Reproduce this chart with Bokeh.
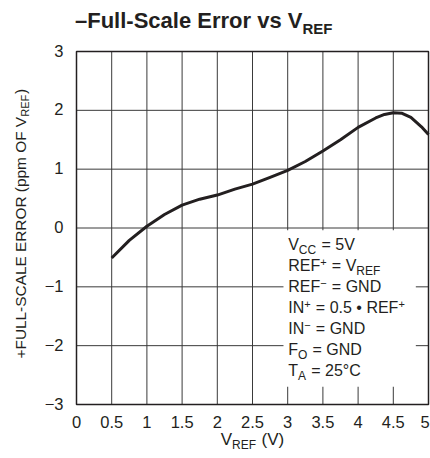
import math
from bokeh.plotting import figure
from bokeh.models import Label, Range1d
from bokeh.core.properties import value
from bokeh.embed import file_html
from bokeh.resources import INLINE

# ---------------- data ----------------
vref = [0.5, 0.75, 1.0, 1.25, 1.5, 1.75, 2.0, 2.25, 2.5, 2.75, 3.0, 3.25,
        3.5, 3.75, 4.0, 4.25, 4.375, 4.5, 4.625, 4.75, 4.9, 5.0]
fs_error = [-0.51, -0.21, 0.03, 0.23, 0.39, 0.49, 0.56, 0.66, 0.745, 0.86, 0.98, 1.13,
            1.31, 1.50, 1.71, 1.87, 1.93, 1.96, 1.95, 1.88, 1.72, 1.59]

x_ticks = [0, 0.5, 1, 1.5, 2, 2.5, 3, 3.5, 4, 4.5, 5]
x_tick_labels = ["0", "0.5", "1", "1.5", "2", "2.5", "3", "3.5", "4", "4.5", "5"]
y_ticks = [-3, -2, -1, 0, 1, 2, 3]
y_tick_labels = ["\u22123", "\u22122", "\u22121", "0", "1", "2", "3"]

title_parts = [("\u2013Full-Scale Error vs V", "n"), ("REF", "sub")]
xlabel_parts = [("V", "n"), ("REF", "sub"), (" (V)", "n")]
ylabel_parts = [("+FULL-SCALE ERROR (ppm OF V", "n"), ("REF", "sub"), (")", "n")]
legend_lines = [
    [("V", "n"), ("CC", "sub"), (" = 5V", "n")],
    [("REF", "n"), ("+", "sup"), (" = V", "n"), ("REF", "sub")],
    [("REF", "n"), ("\u2212", "sup"), (" = GND", "n")],
    [("IN", "n"), ("+", "sup"), (" = 0.5 \u2022 REF", "n"), ("+", "sup")],
    [("IN", "n"), ("\u2212", "sup"), (" = GND", "n")],
    [("F", "n"), ("O", "sub"), (" = GND", "n")],
    [("T", "n"), ("A", "sub"), (" = 25\u00b0C", "n")],
]

# ---------------- text metrics (Arial-compatible widths /1000) ----------------
W_REG = {' ': 278, '+': 584, '-': 333, '\u2013': 556, '\u2212': 584, '.': 278, '(': 333, ')': 333,
         '\u00b0': 400, '\u2022': 350, '=': 584, 'A': 667, 'C': 722, 'D': 722, 'E': 667, 'F': 611,
         'G': 778, 'I': 278, 'L': 556, 'N': 722, 'O': 778, 'R': 722, 'S': 667, 'T': 611, 'U': 722,
         'V': 667, 'a': 556, 'c': 500, 'e': 556, 'l': 222, 'm': 833, 'o': 556, 'p': 556, 'r': 333,
         's': 500, 'u': 556, 'v': 500}
for d in "0123456789":
    W_REG[d] = 556
W_BOLD = dict(W_REG)
W_BOLD.update({'u': 611, 'l': 278, 'c': 556, 'r': 389, 'o': 611, 'v': 556, 's': 556})


def text_width(s, size, bold=False):
    table = W_BOLD if bold else W_REG
    return sum(table.get(ch, 556) for ch in s) / 1000.0 * size


# empirical correction: rendered baseline sits lower than requested by this fraction of the size
BASE_FIX = 0.42

# ---------------- layout: the plotting frame covers the whole canvas ----------------
W, H = 430, 458
BOX_L, BOX_R, BOX_T, BOX_B = 76.0, 428.0, 51.0, 404.0      # page pixels of the chart box
X0, X1 = x_ticks[0], x_ticks[-1]
Y0, Y1 = y_ticks[0], y_ticks[-1]
PX_X = (BOX_R - BOX_L) / (X1 - X0)
PX_Y = (BOX_B - BOX_T) / (Y1 - Y0)


def dx(px):       # page x -> data x
    return X0 + (px - BOX_L) / PX_X


def dy(py):       # page y -> data y
    return Y1 - (py - BOX_T) / PX_Y


p = figure(width=W, height=H, x_range=Range1d(dx(0), dx(W)), y_range=Range1d(dy(H), dy(0)),
           output_backend="svg", toolbar_location=None, title=None,
           x_axis_type=None, y_axis_type=None,
           min_border_left=0, min_border_right=0, min_border_top=0, min_border_bottom=0)
p.background_fill_color = "white"
p.border_fill_color = "white"
p.outline_line_color = None
p.xgrid.visible = False
p.ygrid.visible = False

INK = "#231f20"
FONT = "Liberation Sans"

# grid lines
gx = x_ticks[1:-1]
gy = y_ticks[1:-1]
p.segment(x0=gx, y0=[Y0] * len(gx), x1=gx, y1=[Y1] * len(gx), line_color="#3a3a3a", line_width=1)
p.segment(x0=[X0] * len(gy), y0=gy, x1=[X1] * len(gy), y1=gy, line_color="#3a3a3a", line_width=1)

# white mask behind the conditions text
p.quad(left=[2.94], right=[4.82], bottom=[-2.70], top=[-0.04], fill_color="white", line_color=None)

# chart box
p.quad(left=[X0], right=[X1], bottom=[Y0], top=[Y1], fill_color=None,
       line_color=INK, line_width=1.5)

# curve
p.line(vref, fs_error, line_color=INK, line_width=3, line_join="round")

# tick labels
TICK_SIZE = 16.5
tick_fix = BASE_FIX * TICK_SIZE
x_tick_shift = [0.0] * (len(x_ticks) - 1) + [-3.5]     # keep the last label inside the canvas
p.text(x=x_ticks, y=[dy(428.0 - tick_fix)] * len(x_ticks), text=x_tick_labels,
       x_offset=x_tick_shift,
       text_font=value(FONT), text_font_size=f"{TICK_SIZE}px", text_color=INK,
       text_align="center", text_baseline="alphabetic")
p.text(x=[dx(63.0)] * len(y_ticks), y=[t - (6.0 - tick_fix) / PX_Y for t in y_ticks],
       text=y_tick_labels,
       text_font=value(FONT), text_font_size=f"{TICK_SIZE}px", text_color=INK,
       text_align="right", text_baseline="alphabetic")


# ---------------- composite texts ----------------
def add_label(x, y, text, size, bold=False, x_offset=0.0, angle=0.0):
    p.add_layout(Label(x=x, y=y, x_units="data", y_units="data", text=text,
                       text_font=FONT, text_font_size=f"{size}px",
                       text_font_style="bold" if bold else "normal",
                       text_color=INK, text_align="left", text_baseline="alphabetic",
                       x_offset=x_offset, angle=angle))


def compose(parts, sizes, bold=False):
    out = []
    adv = 0.0
    for txt, kind in parts:
        size = sizes[kind]
        stripped = txt.lstrip(' ')
        lead = text_width(txt[:len(txt) - len(stripped)], size, bold)
        out.append((adv + lead, stripped, kind, size))
        adv += text_width(txt, size, bold) + (0.8 if kind != "n" else 0.0)
    return out, adv


# conditions block (anchored to the x = 3 grid line)
LEG_SIZES = {"n": 16, "sub": 12, "sup": 11}
LEG_SHIFT = {"n": 0.0, "sub": 3.5, "sup": -6.0}       # page-pixel shift of the baseline
leg_baselines_page = [251, 272, 293, 314, 335, 356, 377]
for line, py in zip(legend_lines, leg_baselines_page):
    segs, _ = compose(line, LEG_SIZES)
    for adv, txt, kind, size in segs:
        add_label(3.0, dy(py + LEG_SHIFT[kind] - BASE_FIX * size), txt, size,
                  x_offset=adv + 0.5)

# title
T_SIZES = {"n": 22, "sub": 15}
segs, _ = compose(title_parts, T_SIZES, bold=True)
for adv, txt, kind, size in segs:
    base = 34.0 if kind == "sub" else 29.5
    add_label(dx(74.5 + adv), dy(base - BASE_FIX * size), txt, size, bold=True)

# x-axis label, centred on the middle of the box
X_SIZES = {"n": 17, "sub": 12}
segs, total = compose(xlabel_parts, X_SIZES)
center_px = (BOX_L + BOX_R) / 2.0
for adv, txt, kind, size in segs:
    base = 450.0 if kind == "sub" else 446.5
    add_label(dx(center_px - total / 2 + adv), dy(base - BASE_FIX * size), txt, size)

# y-axis label (rotated, reads bottom to top)
Y_SIZES = {"n": 15.4, "sub": 11.0}
segs, total = compose(ylabel_parts, Y_SIZES)
for adv, txt, kind, size in segs:
    bx = 29.5 if kind == "sub" else 26.0
    add_label(dx(bx - BASE_FIX * size), dy(358 - adv), txt, size, angle=math.pi / 2)

open("out.html", "w").write(file_html(p, INLINE))
